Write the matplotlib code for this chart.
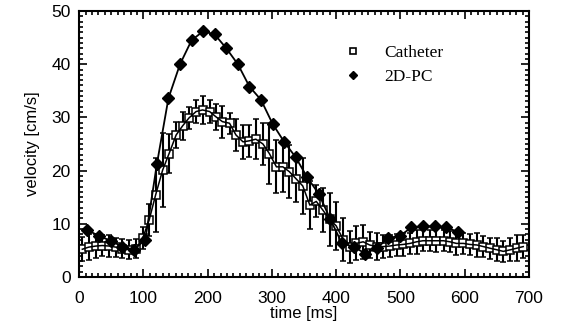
import matplotlib
matplotlib.use("Agg")
import matplotlib.pyplot as plt
from matplotlib.lines import Line2D
from matplotlib.ticker import MultipleLocator

# Catheter (open squares, with error bars)
t_cath = [5, 15, 26, 36, 47, 57, 67, 78, 88, 99,
          109, 119, 130, 140, 151, 161, 171, 182, 192, 203,
          213, 223, 234, 244, 255, 265, 275, 286, 296, 307,
          317, 327, 338, 348, 359, 369, 379, 390, 400, 411,
          421, 431, 442, 452, 463, 473, 483, 494, 504, 515,
          525, 535, 546, 556, 567, 577, 587, 598, 608, 619,
          629, 639, 650, 660, 671, 681, 691]
v_cath = [5.2, 5.6, 5.8, 5.9, 5.8, 5.6, 5.3, 5.1, 5.3, 7.3,
          10.7, 15.4, 20.1, 23.2, 26.7, 28.4, 29.9, 31.1, 31.4, 31.1,
          30.1, 29.2, 28.9, 26.7, 25.4, 25.6, 25.9, 25.0, 23.2, 20.7,
          20.7, 19.8, 18.4, 17.1, 13.5, 14.2, 12.6, 10.8, 9.6, 7.0,
          5.7, 6.3, 6.6, 6.0, 5.7, 5.7, 5.8, 6.0, 6.1, 6.3,
          6.6, 6.8, 6.8, 6.8, 6.8, 6.6, 6.3, 6.3, 6.1, 6.0,
          5.7, 5.4, 5.1, 4.8, 5.1, 5.4, 5.7]
err_cath = [2.3, 2.5, 2.2, 2.0, 2.0, 1.8, 1.8, 1.8, 1.8, 2.0,
            3.0, 7.0, 7.0, 3.6, 2.5, 2.6, 2.0, 2.2, 2.7, 2.2,
            2.4, 3.0, 2.0, 3.0, 3.2, 3.0, 3.8, 4.0, 5.8, 5.0,
            4.8, 5.0, 4.4, 5.3, 4.5, 3.0, 4.2, 5.0, 4.5, 4.0,
            3.0, 3.2, 3.2, 2.5, 2.5, 2.2, 2.0, 2.0, 2.2, 2.0,
            2.2, 2.0, 2.0, 2.2, 2.0, 2.0, 2.2, 2.0, 2.0, 2.2,
            2.0, 2.0, 2.2, 2.0, 2.2, 2.5, 2.2]

# 2D-PC (filled diamonds)
t_pc = [13, 31, 49, 67, 85, 103, 121, 139, 157, 175,
        193, 211, 229, 247, 265, 283, 301, 319, 337, 355,
        373, 391, 409, 427, 445, 463, 481, 499, 517, 535,
        553, 571, 589]
v_pc = [8.8, 7.7, 6.8, 5.7, 5.1, 7.0, 21.2, 33.6, 40.0, 44.5,
        46.2, 45.6, 43.0, 40.0, 35.8, 33.3, 28.8, 25.4, 22.5, 18.7,
        15.6, 10.8, 6.3, 5.7, 4.4, 5.4, 7.3, 7.7, 9.3, 9.5,
        9.5, 9.3, 8.5]

fig = plt.figure(figsize=(5.61, 3.25), dpi=100)
ax = fig.add_axes([0.141, 0.148, 0.802, 0.818])

ax.errorbar(t_cath, v_cath, yerr=err_cath, fmt='s', color='black', mfc='white',
            mec='black', ms=5.5, mew=1.1, ecolor='black', elinewidth=1.5,
            capsize=2.5, capthick=1.5, zorder=2)
ax.plot(t_cath, v_cath, color='black', lw=1.1, zorder=3)
ax.plot(t_pc, v_pc, color='black', lw=1.3, marker='D', ms=6.5, mfc='black',
        mec='black', zorder=4)

ax.set_xlim(0, 700)
ax.set_ylim(0, 50)
ax.xaxis.set_major_locator(MultipleLocator(100))
ax.xaxis.set_minor_locator(MultipleLocator(10))
ax.yaxis.set_major_locator(MultipleLocator(10))
ax.yaxis.set_minor_locator(MultipleLocator(1))
ax.tick_params(which='both', direction='in', top=True, right=True,
               labelsize=12.5, width=1.2)
ax.tick_params(which='major', length=6)
ax.tick_params(which='minor', length=3)
ax.tick_params(axis='x', which='major', pad=10)
ax.tick_params(axis='y', which='major', pad=6)
for lab in ax.get_xticklabels() + ax.get_yticklabels():
    lab.set_family('Liberation Sans')
for s in ax.spines.values():
    s.set_linewidth(1.5)

ax.set_xlabel('time [ms]', fontsize=12, family='Liberation Sans', labelpad=0)
ax.set_ylabel('velocity [cm/s]', fontsize=12, family='Liberation Sans', labelpad=8)

handles = [Line2D([], [], ls='none', marker='s', ms=4, mfc='white', mec='black', mew=1.2),
           Line2D([], [], ls='none', marker='D', ms=4, mfc='black', mec='black')]
ax.legend(handles, ['Catheter', '2D-PC'], loc='upper left',
          bbox_to_anchor=(0.555, 0.93), frameon=False, handlelength=1.0,
          handletextpad=1.3, labelspacing=0.45,
          prop={'family': 'Liberation Serif', 'size': 12.5})

fig.savefig('out.png', dpi=100)
